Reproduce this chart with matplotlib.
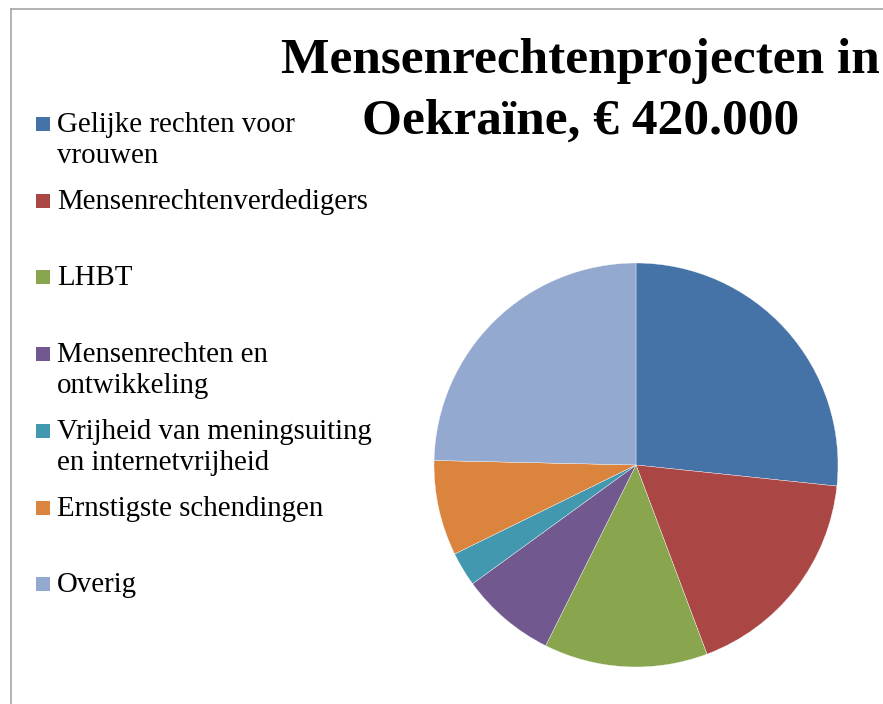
import matplotlib.pyplot as plt
from matplotlib.patches import Rectangle
from matplotlib.lines import Line2D

# Budget per thema (EUR), totaal 420.000
labels = [
    "Gelijke rechten voor\nvrouwen",
    "Mensenrechtenverdedigers",
    "LHBT",
    "Mensenrechten en\nontwikkeling",
    "Vrijheid van meningsuiting\nen internetvrijheid",
    "Ernstigste schendingen",
    "Overig",
]
values = [112000, 74000, 55000, 32000, 11500, 32000, 103500]
colors = ["#4572A7", "#AA4643", "#89A54E", "#71588F", "#4198AF", "#DB843D", "#93A9CF"]

W, H = 883, 704
fig = plt.figure(figsize=(W / 100, H / 100), dpi=100)
plt.rcParams['font.family'] = ['Liberation Serif', 'DejaVu Serif']

# kader (alleen links en boven zichtbaar)
fig.add_artist(Line2D([11 / W, 11 / W], [0, 1 - 9 / H], color="#a6a6a6", lw=1.2))
fig.add_artist(Line2D([11 / W, 1], [1 - 9 / H, 1 - 9 / H], color="#a6a6a6", lw=1.2))

# taart
cx, cy, r = 636, 465, 202
ax = fig.add_axes([(cx - r) / W, (H - cy - r) / H, 2 * r / W, 2 * r / H])
wedges, _ = ax.pie(values, colors=colors, startangle=90, counterclock=False,
                   wedgeprops=dict(edgecolor="white", linewidth=0.25))
ax.set_xlim(-1, 1)
ax.set_ylim(-1, 1)

# titel
fig.text(580 / W, 1 - 73 / H, "Mensenrechtenprojecten in", ha="center", va="baseline",
         fontsize=37, fontweight="bold")
fig.text(581 / W, 1 - 134 / H, "Oekraïne, € 420.000", ha="center", va="baseline",
         fontsize=37, fontweight="bold")

# legenda
base = 132
step = 76.7
for i, (lab, w) in enumerate(zip(labels, wedges)):
    y = base + i * step
    fig.add_artist(Rectangle((36 / W, 1 - (y - 1) / H), 14 / W, 14 / H,
                             facecolor=w.get_facecolor(), edgecolor="none",
                             transform=fig.transFigure))
    for j, line in enumerate(lab.split("\n")):
        fig.text(57 / W, 1 - (y + j * 31) / H, line, ha="left", va="baseline", fontsize=20.8)

fig.savefig("out.png", dpi=100)
